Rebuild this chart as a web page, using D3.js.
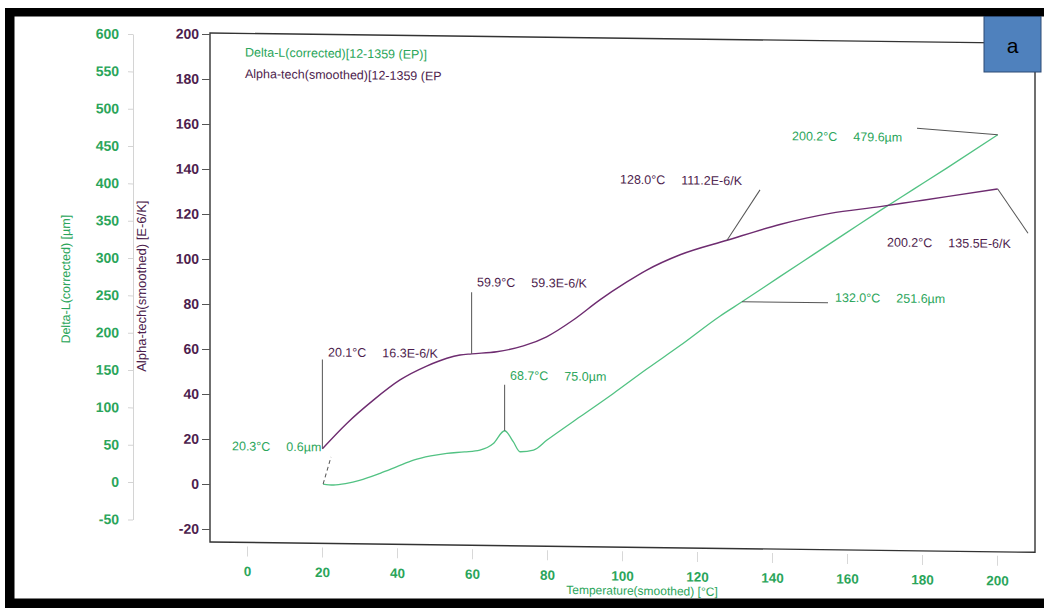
<!DOCTYPE html>
<html><head><meta charset="utf-8">
<script src="https://cdn.jsdelivr.net/npm/d3@7"></script>
<style>
body{margin:0;background:#fff}
svg{display:block}
text{font-family:"Liberation Sans",Arial,sans-serif}
</style>
</head><body>
<svg id="c" width="1044" height="608"></svg>
<script>
// ---- data ----
const tempTicks  = [0,20,40,60,80,100,120,140,160,180,200];
const alphaTicks = [-20,0,20,40,60,80,100,120,140,160,180,200];
const deltaTicks = [-50,0,50,100,150,200,250,300,350,400,450,500,550,600];

const alphaT = [20.1,26.6,33.7,40.8,47.9,53.3,56.8,59.9,66.6,73.7,79.9,87.0,94.1,101.2,106.6,115.5,128.0,142.1,155.5,168.8,177.7,186.6,200.2];
const alphaV = [16.3,27.7,38.2,47.3,53.6,57.2,58.7,59.3,60.4,63.1,67.3,74.9,84.0,92.0,97.5,104.5,111.2,118.5,123.7,127.0,129.4,131.8,135.5];

const deltaT = [20.3,23,26.6,30,35.5,40,44.4,49,53.3,58,62.1,65.7,68.7,71.0,72.8,76.4,80.0,88.8,97.7,106.6,115.5,126.1,132.0,142.1,151.0,159.9,168.8,177.7,186.6,200.2];
const deltaV = [0.6,-0.5,1.9,6,15.8,25,34,40,43.8,46,48.7,57.8,75.0,60.4,47.1,49.5,63.2,94.9,126.8,160,192,232,251.6,286,316,346,376,405,434,479.6];

const legendLabels = ["Delta-L(corrected)[12-1359 (EP)]","Alpha-tech(smoothed)[12-1359 (EP"];

const annoSeries = ["delta","alpha","alpha","delta","alpha","delta","delta","alpha"];
const annoT      = [20.3,20.1,59.9,68.7,128.0,132.0,200.2,200.2];
const annoV      = [0.6,16.3,59.3,75.0,111.2,251.6,479.6,135.5];
const annoTempTx = ["20.3°C","20.1°C","59.9°C","68.7°C","128.0°C","132.0°C","200.2°C","200.2°C"];
const annoValTx  = ["0.6µm","16.3E-6/K","59.3E-6/K","75.0µm","111.2E-6/K","251.6µm","479.6µm","135.5E-6/K"];

// ---- layout (label anchor + leader end, in plot coordinates) ----
const annoLayout = [
  {tx:232,ty:450,ex:331,ey:455.5,dash:true},
  {tx:328,ty:355,ex:null,ey:358},
  {tx:477,ty:283,ex:null,ey:289},
  {tx:510,ty:376,ex:null,ey:381},
  {tx:620,ty:178.5,ex:760,ey:183},
  {tx:835,ty:294,ex:828,ey:295},
  {tx:792,ty:133,ex:917,ey:119.5},
  {tx:887,ty:238,ex:1028,ey:223}
];

const GREEN = "#2aa55a", GREEN_LINE = "#52c283", PURPLE = "#4d1d4d", PURPLE_LINE = "#6e2c70";
const fmt = d => String(d);

const svg = d3.select("#c");
const k = 0.0125;
const skewDeg = Math.atan(k) * 180 / Math.PI;
const g = svg.append("g").attr("transform", `translate(0,${-210*k}) skewY(${skewDeg})`);

const x  = d3.scaleLinear().domain([0,200]).range([247,997]);
const yA = d3.scaleLinear().domain([-20,200]).range([529,34]);
const yD = d3.scaleLinear().domain([-50,600]).range([520.4,35]);

// frame
g.append("rect").attr("x",210).attr("y",33).attr("width",825).attr("height",509)
  .attr("fill","none").attr("stroke","#333").attr("stroke-width",1.4);

// alpha axis
const aAx = g.append("g").attr("transform","translate(210,0)")
  .call(d3.axisLeft(yA).tickValues(alphaTicks).tickFormat(fmt).tickSize(8).tickSizeOuter(0).tickPadding(3));
aAx.select(".domain").remove();
aAx.selectAll("line").attr("stroke","#555");
aAx.selectAll("text").attr("fill",PURPLE).attr("font-size",14).attr("font-weight","bold");

// delta axis
const dAx = g.append("g").attr("transform","translate(133,0)")
  .call(d3.axisLeft(yD).tickValues(deltaTicks).tickFormat(fmt).tickSize(5).tickSizeOuter(0).tickPadding(9));
dAx.select(".domain").attr("stroke","#d4d4d4");
dAx.selectAll("line").attr("stroke","#d4d4d4");
dAx.selectAll("text").attr("fill",GREEN).attr("font-size",14).attr("font-weight","bold");

// x axis
const xAx = g.append("g").attr("transform","translate(0,546)")
  .call(d3.axisBottom(x).tickValues(tempTicks).tickFormat(fmt).tickSize(10).tickSizeOuter(0));
xAx.select(".domain").remove();
xAx.selectAll("line").attr("stroke","#d8d8d8");
xAx.selectAll("text").attr("y",20).attr("fill",GREEN).attr("font-size",13.5).attr("font-weight","bold");

// axis titles
g.append("text").attr("transform","translate(70,281) rotate(-90)").attr("text-anchor","middle")
  .attr("fill",GREEN).attr("font-size",12.5).text("Delta-L(corrected)  [µm]");
g.append("text").attr("transform","translate(146,287) rotate(-90)").attr("text-anchor","middle")
  .attr("fill",PURPLE).attr("font-size",13).text("Alpha-tech(smoothed)  [E-6/K]");
g.append("text").attr("x",642).attr("y",589.5).attr("text-anchor","middle")
  .attr("fill",GREEN).attr("font-size",12).text("Temperature(smoothed)  [°C]");

// legend
legendLabels.forEach((t,i)=>{
  g.append("text").attr("x",245).attr("y",56+i*21.5).attr("font-size",12.5)
    .attr("fill", i===0?GREEN:PURPLE).text(t);
});

// curves
const lineA = d3.line().x(d=>x(d[0])).y(d=>yA(d[1])).curve(d3.curveMonotoneX);
const lineD = d3.line().x(d=>x(d[0])).y(d=>yD(d[1])).curve(d3.curveMonotoneX);
g.append("path").datum(deltaT.map((t,i)=>[t,deltaV[i]])).attr("d",lineD)
  .attr("fill","none").attr("stroke",GREEN_LINE).attr("stroke-width",1.3);
g.append("path").datum(alphaT.map((t,i)=>[t,alphaV[i]])).attr("d",lineA)
  .attr("fill","none").attr("stroke",PURPLE_LINE).attr("stroke-width",1.4);

// annotations
annoT.forEach((t,i)=>{
  const L = annoLayout[i];
  const isA = annoSeries[i]==="alpha";
  const px = x(t), py = isA ? yA(annoV[i]) : yD(annoV[i]);
  const ex = L.ex===null ? px : L.ex;
  g.append("line").attr("x1",px).attr("y1",py).attr("x2",ex).attr("y2",L.ey)
    .attr("stroke","#555").attr("stroke-width",1)
    .attr("stroke-dasharray", L.dash ? "4,3" : null);
  const tx = g.append("text").attr("x",L.tx).attr("y",L.ty).attr("font-size",12.5)
    .attr("fill", isA ? PURPLE : GREEN);
  tx.append("tspan").text(annoTempTx[i]);
  tx.append("tspan").attr("dx",16).text(annoValTx[i]);
});

// scan border (black bands)
svg.append("rect").attr("x",5).attr("y",8).attr("width",1039).attr("height",8.5).attr("fill","#000");
svg.append("rect").attr("x",5).attr("y",8).attr("width",9.5).attr("height",600).attr("fill","#000");
svg.append("rect").attr("x",5).attr("y",598.5).attr("width",1039).attr("height",9.5).attr("fill","#000");

// panel label
svg.append("rect").attr("x",984).attr("y",16.5).attr("width",57).attr("height",55.5)
  .attr("fill","#4f81bd").attr("stroke","#2c4a74").attr("stroke-width",1);
svg.append("text").attr("x",1012.5).attr("y",53).attr("text-anchor","middle")
  .attr("font-size",21).attr("fill","#000").text("a");
</script>
</body></html>
